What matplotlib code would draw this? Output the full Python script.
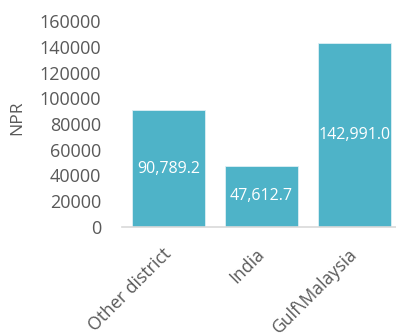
import numpy as np
import matplotlib.pyplot as plt
from matplotlib.transforms import ScaledTranslation

plt.rcParams['font.family'] = ['Open Sans', 'DejaVu Sans']

places = ["Other district", "India", "Gulf\\Malaysia"]
income = [90789.2, 47612.7, 142991.0]
yticks = [0, 20000, 40000, 60000, 80000, 100000, 120000, 140000, 160000]

grey = "#595959"
bar_col = "#4EB3C8"

fig = plt.figure(figsize=(3.96, 3.36), dpi=100)
ax = fig.add_axes([122/396, 109/336, 279/396, 206/336])

x = np.arange(len(places))
bars = ax.bar(x, income, width=0.78, color=bar_col, edgecolor="#DDEFF4", linewidth=0.6)

for b, v in zip(bars, income):
    ax.text(b.get_x() + b.get_width()/2, v/2, f"{v:,.1f}",
            ha="center", va="center", color="white", fontsize=11.5)

ax.set_xlim(-0.5, 2.5)
ax.set_ylim(0, 160000)
ax.set_yticks(yticks)
ax.set_yticklabels([str(t) for t in yticks])
ax.set_xticks(x)
ax.set_xticklabels(places, rotation=45, ha="right", rotation_mode="anchor")

ax.tick_params(axis="y", length=0, pad=15, labelsize=13, colors=grey)
ax.tick_params(axis="x", length=0, pad=13, labelsize=12.7, colors=grey)
ax.set_ylabel("NPR", color=grey, fontsize=12.5, labelpad=10, y=0.53)

# nudge the slanted category names a little to the left
shift = ScaledTranslation(-6/100, 0, fig.dpi_scale_trans)
for lbl in ax.get_xticklabels():
    lbl.set_transform(lbl.get_transform() + shift)

for s in ["top", "right", "left"]:
    ax.spines[s].set_visible(False)
ax.spines["bottom"].set_color("#D9D9D9")
ax.spines["bottom"].set_linewidth(1.2)

fig.savefig("out.png", dpi=100)
